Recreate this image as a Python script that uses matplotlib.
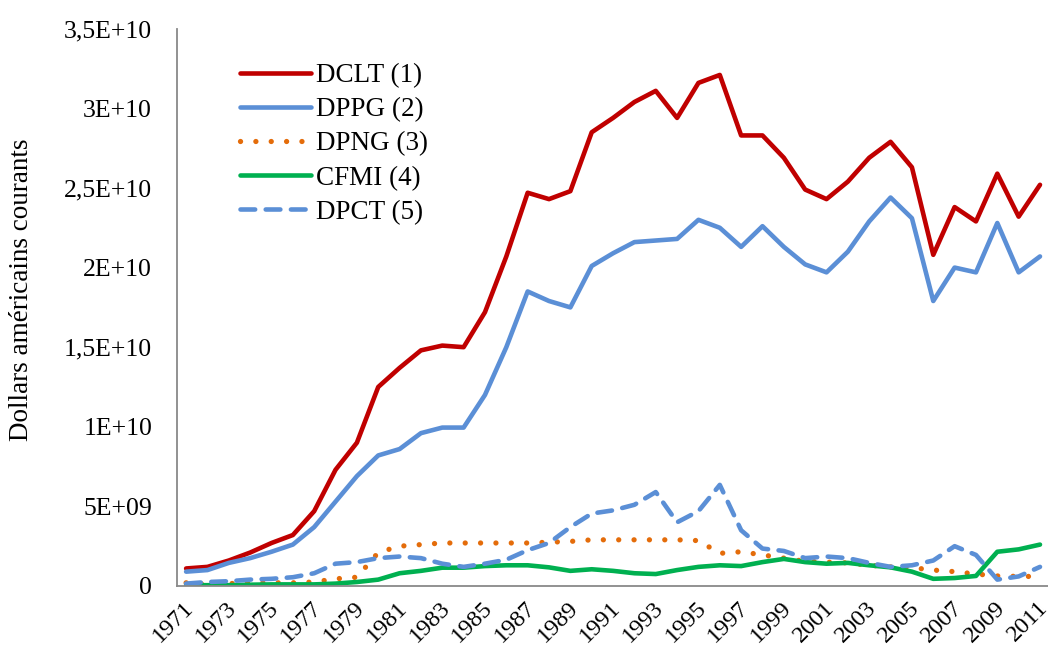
import matplotlib.pyplot as plt
import matplotlib.transforms as mtransforms
import numpy as np

# values in US dollars (in billions)
years = list(range(1971, 2012))

dclt = [1.1, 1.2, 1.6, 2.1, 2.7, 3.2, 4.7, 7.3, 9.0, 12.5,
        13.7, 14.8, 15.1, 15.0, 17.2, 20.7, 24.7, 24.3, 24.8, 28.5,
        29.4, 30.4, 31.1, 29.4, 31.6, 32.1, 28.3, 28.3, 26.9, 24.9,
        24.3, 25.4, 26.9, 27.9, 26.3, 20.8, 23.8, 22.9, 25.9, 23.2, 25.2]
dppg = [0.9, 1.0, 1.45, 1.75, 2.15, 2.6, 3.7, 5.3, 6.9, 8.2,
        8.6, 9.6, 9.95, 9.95, 12.0, 15.0, 18.5, 17.9, 17.5, 20.1,
        20.9, 21.6, 21.7, 21.8, 23.0, 22.5, 21.3, 22.6, 21.3, 20.2,
        19.7, 21.0, 22.9, 24.4, 23.1, 17.9, 20.0, 19.7, 22.8, 19.7, 20.7]
dpng = [0.2, 0.1, 0.15, 0.2, 0.2, 0.2, 0.25, 0.45, 0.55, 2.1,
        2.5, 2.6, 2.7, 2.7, 2.7, 2.7, 2.7, 2.75, 2.8, 2.9,
        2.9, 2.9, 2.9, 2.9, 2.85, 2.05, 2.15, 1.95, 1.75, 1.55,
        1.5, 1.45, 1.3, 1.2, 1.15, 1.0, 0.9, 0.75, 0.63, 0.6, 0.6]
cfmi = [0.05, 0.05, 0.05, 0.08, 0.1, 0.1, 0.1, 0.15, 0.25, 0.4,
        0.8, 0.95, 1.15, 1.15, 1.25, 1.3, 1.3, 1.17, 0.95, 1.05,
        0.95, 0.8, 0.75, 1.0, 1.2, 1.3, 1.25, 1.5, 1.7, 1.5,
        1.4, 1.45, 1.3, 1.17, 0.9, 0.45, 0.5, 0.63, 2.15, 2.3, 2.6]
dpct = [0.15, 0.25, 0.3, 0.4, 0.45, 0.55, 0.8, 1.4, 1.5, 1.75,
        1.85, 1.75, 1.4, 1.2, 1.4, 1.65, 2.25, 2.7, 3.7, 4.55,
        4.75, 5.1, 5.9, 4.0, 4.7, 6.35, 3.5, 2.35, 2.2, 1.75,
        1.85, 1.75, 1.45, 1.2, 1.3, 1.6, 2.5, 1.95, 0.4, 0.6, 1.2]

y_ticks = [0, 5e9, 1e10, 1.5e10, 2e10, 2.5e10, 3e10, 3.5e10]
y_labels = ["0", "5E+09", "1E+10", "1,5E+10", "2E+10", "2,5E+10", "3E+10", "3,5E+10"]
x_ticks = years[::2]

plt.rcParams['font.family'] = ['Liberation Serif', 'DejaVu Serif']

fig = plt.figure(figsize=(10.48, 6.54), dpi=100)
ax = fig.add_axes([0.169, 0.104, 0.831, 0.852])

yrs = np.array(years)
scale = 1e9
lw = 3.3
ax.plot(yrs, np.array(dclt) * scale, color="#C00000", lw=lw, solid_capstyle="round",
        solid_joinstyle="round", label="DCLT (1)")
ax.plot(yrs, np.array(dppg) * scale, color="#5B8FD6", lw=lw, solid_capstyle="round",
        solid_joinstyle="round", label="DPPG (2)")
ax.plot(yrs, np.array(dpng) * scale, color="#E46C0A", lw=3.8, linestyle=(0, (0.01, 2.9)),
        dash_capstyle="round", label="DPNG (3)")
ax.plot(yrs, np.array(cfmi) * scale, color="#00B050", lw=lw, solid_capstyle="round",
        solid_joinstyle="round", label="CFMI (4)")
ax.plot(yrs, np.array(dpct) * scale, color="#5B8FD6", lw=lw, linestyle=(0, (3.2, 2.3)),
        dash_capstyle="round", label="DPCT (5)")

ax.set_xlim(1971 - 9 / 21.35, 2011 + 8 / 21.35)
ax.set_ylim(0, 3.5e10)

ax.set_yticks(y_ticks)
ax.set_yticklabels(y_labels, fontsize=18.5)
ax.set_xticks(x_ticks)
ax.set_xticklabels([str(y) for y in x_ticks], fontsize=17.5, rotation=45,
                   ha="right", va="top", rotation_mode="anchor")
ax.tick_params(axis="both", length=0)
ax.tick_params(axis="y", pad=18)
ax.tick_params(axis="x", pad=8)

# nudge year labels a few pixels left so the last one stays inside the figure
shift = mtransforms.ScaledTranslation(-3 / 100, 0, fig.dpi_scale_trans)
for lbl in ax.get_xticklabels():
    lbl.set_transform(lbl.get_transform() + shift)

for side in ["top", "right"]:
    ax.spines[side].set_visible(False)
for side in ["left", "bottom"]:
    ax.spines[side].set_color("#898989")
    ax.spines[side].set_linewidth(1.3)

ax.set_ylabel("Dollars américains courants", fontsize=19.5)
ax.yaxis.set_label_coords(-0.164, 0.531)

ax.legend(loc="upper left", bbox_to_anchor=(0.06, 0.958), frameon=False,
          fontsize=19.5, handlelength=2.6, handletextpad=0.2, labelspacing=0.34,
          borderaxespad=0)

fig.savefig("out.png", dpi=100)
